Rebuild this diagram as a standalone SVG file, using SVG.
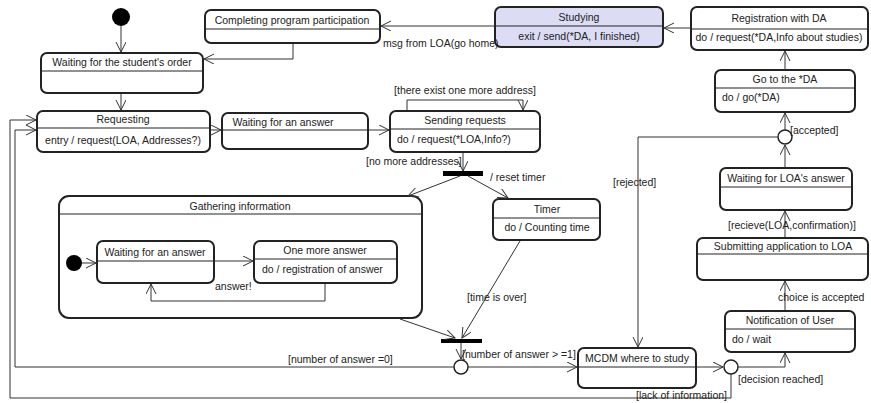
<svg xmlns="http://www.w3.org/2000/svg" width="871" height="403" viewBox="0 0 871 403">
<defs>
<style>
.st{fill:#fff;stroke:#222;stroke-width:2}
.hl{stroke:#222;stroke-width:1}
.t{font-family:"Liberation Sans",Arial,sans-serif;font-size:10.5px;fill:#222}
.c{text-anchor:middle}
.ln{fill:none;stroke:#333;stroke-width:1}
.bar{fill:#000}
</style>
<marker id="a" markerWidth="12" markerHeight="12" refX="10" refY="5" orient="auto" markerUnits="userSpaceOnUse">
<path d="M0,0 L10,5 L0,10" fill="none" stroke="#333" stroke-width="1"/>
</marker>
</defs>
<rect width="871" height="403" fill="#fff"/>

<g id="init"><circle cx="121" cy="17" r="9" fill="#000"/></g>

<g id="completing">
<rect class="st" x="205" y="10" width="175" height="33" rx="6"/>
<line class="hl" x1="205" y1="29" x2="380" y2="29"/>
<text class="t c" x="292" y="24">Completing program participation</text>
</g>

<g id="waitingOrder">
<rect class="st" x="41" y="53" width="162" height="40" rx="6"/>
<line class="hl" x1="41" y1="71" x2="203" y2="71"/>
<text class="t c" x="122" y="66">Waiting for the student's order</text>
</g>

<g id="studying">
<rect class="st" x="495" y="7" width="168" height="40" rx="6" style="fill:#dcdcf4"/>
<line class="hl" x1="495" y1="26" x2="663" y2="26"/>
<text class="t c" x="579" y="21">Studying</text>
<text class="t c" x="579" y="40">exit / send(*DA, I finished)</text>
</g>

<g id="registration">
<rect class="st" x="691" y="7" width="177" height="43" rx="6"/>
<line class="hl" x1="691" y1="29" x2="868" y2="29"/>
<text class="t c" x="779" y="22">Registration with DA</text>
<text class="t c" x="779" y="41">do / request(*DA,Info about studies)</text>
</g>

<g id="gotoDA">
<rect class="st" x="715" y="70" width="140" height="42" rx="6"/>
<line class="hl" x1="715" y1="88" x2="855" y2="88"/>
<text class="t c" x="785" y="83">Go to the *DA</text>
<text class="t" x="722" y="101">do / go(*DA)</text>
</g>

<g id="decision1"><circle cx="785" cy="137" r="7" fill="#fff" stroke="#222" stroke-width="1.5"/></g>

<g id="waitingLOA">
<rect class="st" x="720" y="168" width="132" height="42" rx="6"/>
<line class="hl" x1="720" y1="187" x2="852" y2="187"/>
<text class="t c" x="786" y="182">Waiting for LOA's answer</text>
</g>

<g id="submitting">
<rect class="st" x="697" y="238" width="171" height="42" rx="6"/>
<line class="hl" x1="697" y1="254" x2="868" y2="254"/>
<text class="t c" x="783" y="250">Submitting application to LOA</text>
</g>

<g id="notification">
<rect class="st" x="725" y="311" width="130" height="41" rx="6"/>
<line class="hl" x1="725" y1="329" x2="855" y2="329"/>
<text class="t c" x="790" y="324">Notification of User</text>
<text class="t" x="732" y="343">do / wait</text>
</g>

<g id="mcdm">
<rect class="st" x="578" y="348" width="118" height="40" rx="6"/>
<line class="hl" x1="578" y1="367" x2="696" y2="367"/>
<text class="t c" x="637" y="362">MCDM where to study</text>
</g>

<g id="decision2"><circle cx="731" cy="367" r="7" fill="#fff" stroke="#222" stroke-width="1.5"/></g>

<g id="requesting">
<rect class="st" x="37" y="111" width="173" height="41" rx="6"/>
<line class="hl" x1="37" y1="128" x2="210" y2="128"/>
<text class="t c" x="123" y="123">Requesting</text>
<text class="t c" x="123" y="144">entry / request(LOA, Addresses?)</text>
</g>

<g id="waitingAnswer">
<rect class="st" x="222" y="113" width="146" height="36" rx="6"/>
<line class="hl" x1="222" y1="130" x2="368" y2="130"/>
<text class="t c" x="283" y="126">Waiting for an answer</text>
</g>

<g id="sending">
<rect class="st" x="390" y="111" width="150" height="41" rx="6"/>
<line class="hl" x1="390" y1="129" x2="540" y2="129"/>
<text class="t c" x="465" y="124">Sending requests</text>
<text class="t" x="397" y="143">do / request(*LOA,Info?)</text>
</g>

<g id="fork"><rect class="bar" x="443" y="171" width="40" height="5"/></g>

<g id="gathering">
<rect class="st" x="59" y="196" width="363" height="122" rx="10"/>
<line class="hl" x1="59" y1="214" x2="422" y2="214"/>
<text class="t c" x="240" y="210">Gathering information</text>
<circle cx="74" cy="263" r="8" fill="#000"/>
<g id="innerWaiting">
<rect class="st" x="97" y="241" width="117" height="42" rx="6"/>
<line class="hl" x1="97" y1="261" x2="214" y2="261"/>
<text class="t c" x="155" y="256">Waiting for an answer</text>
</g>
<g id="oneMore">
<rect class="st" x="254" y="241" width="143" height="42" rx="6"/>
<line class="hl" x1="254" y1="259" x2="397" y2="259"/>
<text class="t c" x="325" y="254">One more answer</text>
<text class="t" x="262" y="273">do / registration of answer</text>
</g>
</g>

<g id="timer">
<rect class="st" x="493" y="199" width="107" height="41" rx="6"/>
<line class="hl" x1="493" y1="218" x2="600" y2="218"/>
<text class="t c" x="547" y="213">Timer</text>
<text class="t c" x="547" y="231">do / Counting time</text>
</g>

<g id="join"><rect class="bar" x="441" y="339" width="41" height="4"/></g>

<g id="decision3"><circle cx="461" cy="367" r="7" fill="#fff" stroke="#222" stroke-width="1.5"/></g>

<g id="connectors">
<path class="ln" d="M121,26 V52" marker-end="url(#a)"/>
<path class="ln" d="M495,26 H381" marker-end="url(#a)"/>
<path class="ln" d="M293,44 V59 H204" marker-end="url(#a)"/>
<path class="ln" d="M691,28 H664" marker-end="url(#a)"/>
<path class="ln" d="M785,70 V51" marker-end="url(#a)"/>
<path class="ln" d="M785,130 V113" marker-end="url(#a)"/>
<path class="ln" d="M778,137 H638 V347" marker-end="url(#a)"/>
<path class="ln" d="M785,167 V145" marker-end="url(#a)"/>
<path class="ln" d="M785,237 V211" marker-end="url(#a)"/>
<path class="ln" d="M785,310 V281" marker-end="url(#a)"/>
<path class="ln" d="M697,367 H723" marker-end="url(#a)"/>
<path class="ln" d="M738,367 H785 V353" marker-end="url(#a)"/>
<path class="ln" d="M731,374 V398 H10 V120 H36" marker-end="url(#a)"/>
<path class="ln" d="M121,94 V110" marker-end="url(#a)"/>
<path class="ln" d="M211,130 H221" marker-end="url(#a)"/>
<path class="ln" d="M369,130 H389" marker-end="url(#a)"/>
<path class="ln" d="M407,110 V100 H523 V110" marker-end="url(#a)"/>
<path class="ln" d="M463,153 V171" marker-end="url(#a)"/>
<path class="ln" d="M460,176 L408,196" marker-end="url(#a)"/>
<path class="ln" d="M468,176 L508,198" marker-end="url(#a)"/>
<path class="ln" d="M82,263 H96" marker-end="url(#a)"/>
<path class="ln" d="M215,261 H253" marker-end="url(#a)"/>
<path class="ln" d="M325,284 V301 H151 V284" marker-end="url(#a)"/>
<path class="ln" d="M520,241 L462,338" marker-end="url(#a)"/>
<path class="ln" d="M400,319 L455,338" marker-end="url(#a)"/>
<path class="ln" d="M461,343 V359" marker-end="url(#a)"/>
<path class="ln" d="M454,367 H15 V130 H36" marker-end="url(#a)"/>
<path class="ln" d="M468,367 H577" marker-end="url(#a)"/>
<text class="t" x="383" y="47">msg from LOA(go home)</text>
<text class="t" x="790" y="134">[accepted]</text>
<text class="t" x="613" y="186">[rejected]</text>
<text class="t" x="728" y="229">[recieve(LOA,confirmation)]</text>
<text class="t" x="778" y="301">choice is accepted</text>
<text class="t" x="738" y="383">[decision reached]</text>
<text class="t" x="636" y="399">[lack of information]</text>
<text class="t" x="288" y="363">[number of answer =0]</text>
<text class="t" x="462" y="358">[number of answer &gt; =1]</text>
<text class="t" x="467" y="301">[time is over]</text>
<text class="t" x="215" y="290">answer!</text>
<text class="t c" x="465" y="94">[there exist one more address]</text>
<text class="t" x="366" y="165">[no more addresses]</text>
<text class="t" x="490" y="181">/ reset timer</text>
</g>
</svg>
